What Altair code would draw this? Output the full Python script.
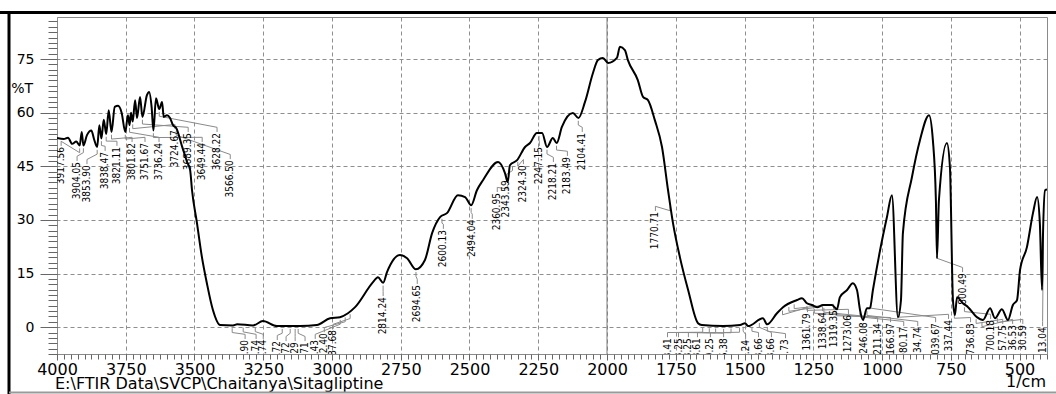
import altair as alt
import pandas as pd
import numpy as np

# ---------------- spectrum (wavenumber cm-1, %T) ----------------
wavenumber = [4000, 3975, 3960, 3945, 3930, 3917.56, 3910, 3904, 3891, 3875, 3865, 3853.9,
              3846, 3838.5, 3830, 3821, 3812, 3801.8, 3790, 3778, 3765, 3751.7, 3742, 3736.2,
              3731, 3724.7, 3716, 3709, 3698, 3689.4, 3673, 3665, 3656, 3649.4, 3640, 3628.2,
              3618, 3612, 3600, 3589, 3578, 3566.5, 3545, 3527, 3516, 3509, 3491, 3473, 3455, 3433,
              3407, 3360, 3345, 3287, 3251, 3200, 3116, 3055, 3007, 2971, 2942, 2916, 2851,
              2833, 2814, 2800, 2753, 2727, 2695, 2662, 2636, 2607, 2582, 2542, 2516, 2494,
              2473, 2451, 2396, 2371, 2361, 2353, 2327, 2298, 2280, 2255, 2236, 2218, 2197,
              2183, 2164, 2124, 2104, 2080, 2051, 2033, 2015, 1996, 1964, 1953, 1935, 1924,
              1888, 1869, 1851, 1826, 1800, 1778, 1760, 1735, 1705, 1669, 1655, 1578, 1516,
              1498, 1487, 1433, 1418, 1382, 1360, 1309, 1291, 1273, 1255, 1236, 1215, 1182,
              1164, 1153, 1127, 1106, 1091, 1080, 1069, 1055, 1044, 1033, 1007, 982, 964,
              942, 931, 924, 891, 862, 829, 815, 804, 800, 793, 764, 753, 742, 735, 727, 706,
              687, 655, 633, 607, 589, 564, 542, 524, 509, 498, 473, 451, 436, 426, 418, 415,
              407, 400]
transmittance = [52.9, 52.6, 53.0, 51.3, 51.9, 50.8, 54.6, 50.8, 53.7, 55.0, 52.5, 50.4,
                 56.5, 52.8, 58.0, 54.0, 60.7, 54.6, 61.6, 61.9, 60.0, 54.6, 59.3, 56.5,
                 60.0, 57.5, 63.5, 58.5, 64.4, 58.8, 64.9, 65.8, 61.6, 55.0, 64.0, 61.0,
                 63.0, 58.8, 59.3, 58.5, 56.5, 55.7, 50.5, 46.2, 44.0, 38.3, 29.1, 19.6, 12.3, 4.8,
                 0.6, 0.5, 0.8, 0.5, 1.7, 0.3, 0.3, 0.6, 2.5, 2.8, 3.9, 5.6, 12.6,
                 14.0, 12.4, 15.4, 20.2, 19.3, 16.2, 18.8, 26.3, 30.8, 31.9, 36.9, 36.4, 34.1,
                 38.3, 41.1, 46.2, 43.1, 40.6, 45.3, 46.7, 50.4, 51.5, 54.3, 54.3, 50.4, 52.9,
                 51.5, 56.0, 59.9, 58.5, 63.0, 71.1, 74.7, 75.3, 73.9, 75.3, 78.4, 77.5, 74.7,
                 69.1, 64.4, 63.5, 57.9, 50.4, 38.3, 29.1, 19.6, 10.4, 1.1, 0.6, 0.3, 0.6,
                 1.1, 0.3, 2.5, 0.8, 3.9, 5.6, 7.6, 8.1, 6.7, 6.2, 5.6, 6.2, 6.2,
                 5.0, 8.4, 10.4, 12.3, 10.4, 4.8, 2.0, 5.3, 5.3, 10.4, 21.5, 30.8, 36.9,
                 2.8, 7.6, 26.3, 42.0, 52.3, 59.3, 52.3, 35.5, 19.3, 35.5, 51.5, 44.8, 7.6, 3.4, 8.4, 6.7,
                 5.6, 2.8, 2.0, 5.3, 2.5, 5.0, 2.0, 6.2, 7.6, 16.0, 22.4, 31.9, 36.4, 29.1, 10.4, 24.4,
                 38.3, 38.5]

# ---------------- peak labels ----------------
label_text = ["3917.56", "3904.05", "3853.90", "3838.47", "3821.11", "3801.82", "3751.67",
              "3736.24", "3724.67", "3689.35", "3649.44", "3628.22", "3566.50",
              "5.90", "5.74", "3.74", "0.72", "1.72", "3.29", "3.71", "7.43", "72.40", "937.68",
              "2814.24", "2694.65", "2600.13", "2494.04", "2360.95", "2343.59", "2324.30",
              "2247.15", "2218.21", "2183.49", "2104.41", "1770.71",
              "3.41", "3.25", "3.25", "3.61", "9.25", "6.38", "5.24", "3.66", "3.66", "7.73",
              "1361.79", "1338.64", "1319.35", "1273.06", "1246.08", "1211.34", "1166.97",
              "080.17", "34.74", "1039.67", "337.44", "800.49", "736.83", "700.18",
              "57.75", "36.53", "30.59", "13.04"]
peak_wn = [3917.56, 3904.05, 3853.90, 3838.47, 3821.11, 3801.82, 3751.67,
           3736.24, 3724.67, 3689.35, 3649.44, 3628.22, 3566.50,
           3363, 3323, 3279, 3181, 3152, 3134, 3123, 2970, 2952, 2934,
           2814.24, 2694.65, 2600.13, 2494.04, 2360.95, 2343.59, 2324.30,
           2247.15, 2218.21, 2183.49, 2104.41, 1770.71,
           1652, 1628, 1605, 1576, 1549, 1518, 1505, 1473, 1446, 1417,
           1361.79, 1338.64, 1319.35, 1273.06, 1246.08, 1211.34, 1166.97,
           1080.17, 1054.74, 1039.67, 937.44, 800.49, 736.83, 700.18,
           657.75, 636.53, 580.59, 413.04]
label_wn = [3985, 3927, 3891, 3825, 3782, 3727, 3680, 3629, 3571, 3523, 3472, 3418, 3370,
            3316, 3276, 3250, 3199, 3167, 3134, 3098, 3061, 3028, 2996,
            2814, 2690, 2595, 2490, 2399, 2366, 2304, 2246, 2195, 2144, 2090, 1824,
            1780, 1740, 1704, 1671, 1624, 1576, 1496, 1449, 1402, 1351,
            1271, 1216, 1176, 1122, 1067, 1016, 969, 921, 870, 805, 758, 707, 678, 605,
            561, 525, 488, 416]
label_top = [50.4, 46.2, 45.3, 49.0, 50.4, 51.5, 51.5, 51.5, 55.1, 54.3, 51.5, 54.3, 46.7,
             -3.6, -3.6, -3.6, -3.9, -4.2, -4.2, -4.2, -3.6, -1.7, -0.8,
             8.4, 11.8, 27.2, 30.0, 37.5, 41.1, 45.3, 50.4, 45.9, 47.6, 54.3, 32.2,
             -3.1, -3.1, -3.1, -3.1, -3.1, -3.1, -3.6, -3.1, -3.1, -3.4,
             3.9, 4.2, 4.8, 3.4, 1.4, 1.1, 1.1, 0.0, 0.0, 1.1, 2.0, 15.1, 1.1, 2.0,
             0.6, 0.6, 0.6, 0.0]

# ---------------- axes ----------------
x_major = [4000, 3750, 3500, 3250, 3000, 2750, 2500, 2250, 2000, 1750, 1500, 1250, 1000, 750, 500]
x_minor = list(range(400, 4001, 25))
y_major = [0, 15, 30, 45, 60, 75]
y_minor = [round(-7.5 + 1.5 * i, 1) for i in range(63)]
ref_line = [2000]
x_domain = [400, 4000]
y_domain = [-7.5, 86.75]

W, H = 990, 337
AXFONT = "DejaVu Sans"

spec = pd.DataFrame({"wn": wavenumber, "t": transmittance})
labels = pd.DataFrame({"text": label_text, "lw": label_wn, "lt": label_top})

asc_x = np.array(wavenumber[::-1], dtype=float)
asc_y = np.array(transmittance[::-1], dtype=float)
rows = []
for i, (pw, lw, lt) in enumerate(zip(peak_wn, label_wn, label_top)):
    pt = float(np.interp(pw, asc_x, asc_y))
    pts = [(pw, pt - 0.8), (pw, pt - 2.0), (lw, lt + 1.6), (lw, lt + 0.3)]
    for j, (a, b) in enumerate(pts):
        rows.append({"id": i, "ord": j, "wn": a, "t": b})
leaders = pd.DataFrame(rows)

xs = alt.Scale(domain=x_domain, reverse=True, nice=False, zero=False)
ys = alt.Scale(domain=y_domain, nice=False, zero=False)


def X(field="wn", axis=None):
    return alt.X(f"{field}:Q", scale=xs, axis=axis)


def Y(field="t", axis=None):
    return alt.Y(f"{field}:Q", scale=ys, axis=axis)


main_x_axis = alt.Axis(values=x_major, format="d", orient="bottom", grid=True,
                       gridDash=[4, 3], gridColor="#8f8f8f", gridWidth=1,
                       tickSize=6, tickColor="#666", domain=False, title=None,
                       labelFont=AXFONT, labelFontSize=16, labelColor="black",
                       labelPadding=1, labelFlush=False, labelOverlap=False)
main_y_axis = alt.Axis(values=y_major, format="d", orient="left", grid=True,
                       gridDash=[4, 3], gridColor="#8f8f8f", gridWidth=1,
                       tickSize=17, tickColor="#666", domain=False, title=None,
                       labelFont=AXFONT, labelFontSize=14, labelColor="black",
                       labelPadding=6, labelFlush=False, labelOverlap=False)
minor_x_axis = alt.Axis(values=x_minor, orient="bottom", grid=False, labels=False,
                        tickSize=5, tickColor="#666", domain=False, title=None)
minor_y_axis = alt.Axis(values=y_minor, orient="left", grid=False, labels=False,
                        tickSize=9, tickColor="#666", domain=False, title=None)

axes_layer = alt.Chart(spec).mark_point(opacity=0).encode(
    x=X(axis=main_x_axis), y=Y(axis=main_y_axis))
minor_layer = alt.Chart(spec).mark_point(opacity=0).encode(
    x=X(axis=minor_x_axis), y=Y(axis=minor_y_axis))

ref = alt.Chart(pd.DataFrame({"wn": ref_line})).mark_rule(
    color="#7a7a7a", strokeWidth=1).encode(x=X())

leader_layer = alt.Chart(leaders).mark_line(
    color="#8a8a8a", strokeWidth=1, clip=True).encode(
    x=X(), y=Y(), detail="id:N", order="ord:Q")

label_layer = alt.Chart(labels).mark_text(
    angle=270, align="right", baseline="middle", fontSize=10,
    font="DejaVu Sans Condensed, DejaVu Sans", color="black", clip=True).encode(
    x=X("lw"), y=Y("lt"), text="text:N")

curve = alt.Chart(spec).mark_line(
    color="black", strokeWidth=2, clip=True, interpolate="monotone").encode(
    x=X(), y=Y(), order="wn:Q")

one = pd.DataFrame({"k": [0]})
pct = alt.Chart(one).mark_text(text="%T", font=AXFONT, fontSize=14, align="right",
                                baseline="middle", color="black").encode(
    x=alt.value(-24), y=alt.value(72))
path = alt.Chart(one).mark_text(text="E:\\FTIR Data\\SVCP\\Chaitanya\\Sitagliptine",
                                 font=AXFONT, fontSize=16, align="left",
                                 baseline="alphabetic", color="black").encode(
    x=alt.value(-2), y=alt.value(372))
unit = alt.Chart(one).mark_text(text="1/cm", font=AXFONT, fontSize=16, align="right",
                                 baseline="alphabetic", color="black").encode(
    x=alt.value(989), y=alt.value(370))

frame_top = alt.Chart(one).mark_rule(color="black", strokeWidth=3).encode(
    x=alt.value(-57), x2=alt.value(999), y=alt.value(-4.5))
frame_left = alt.Chart(one).mark_rule(color="black", strokeWidth=3).encode(
    x=alt.value(-48), y=alt.value(-6), y2=alt.value(377))
frame_bottom = alt.Chart(one).mark_rule(color="#9a9a9a", strokeWidth=2).encode(
    x=alt.value(-48), x2=alt.value(999), y=alt.value(375.5))

chart = alt.layer(
    axes_layer, minor_layer, ref, leader_layer, label_layer, curve,
    pct, path, unit, frame_top, frame_left, frame_bottom
).resolve_axis(x="independent", y="independent").properties(
    width=W, height=H,
    autosize=alt.AutoSizeParams(type="none"),
    padding={"left": 57, "top": 17, "right": 9, "bottom": 40},
    background="white",
).configure_view(stroke="#8a8a8a", strokeWidth=1)

chart.save("out.html", embed_options={"renderer": "svg", "actions": False})
